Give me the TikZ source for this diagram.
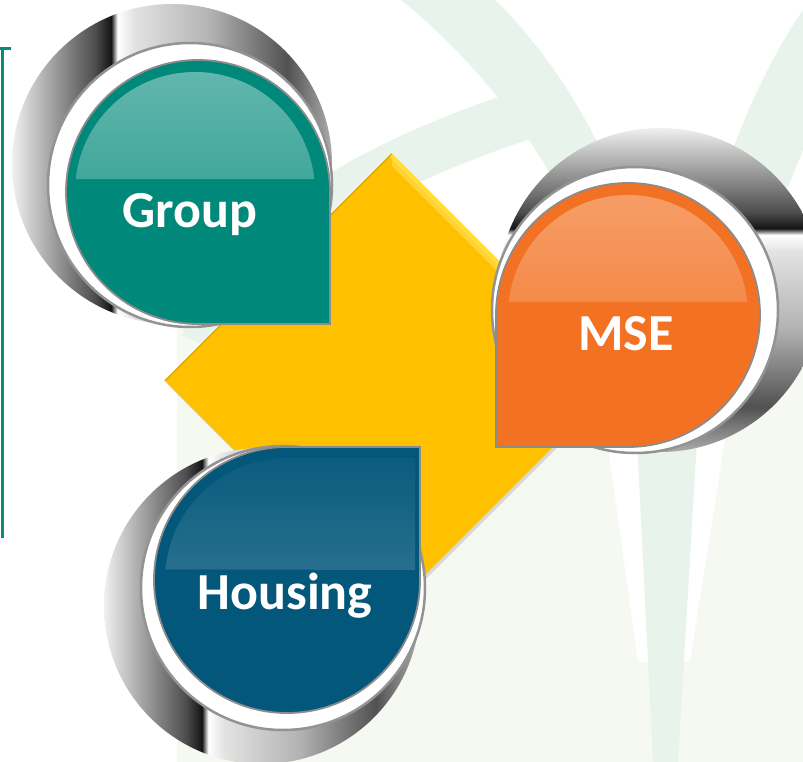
\documentclass[tikz,border=0pt]{standalone}
\usepackage{fontspec}
\setmainfont{Carlito}
\usetikzlibrary{shapes.geometric,shadows}
\definecolor{grpTeal}{RGB}{0,137,122}
\definecolor{mseOrange}{RGB}{242,113,34}
\definecolor{houBlue}{RGB}{3,87,122}
\definecolor{hubGold}{RGB}{255,192,0}
\definecolor{hubLight}{RGB}{255,222,70}
\definecolor{wallTint}{RGB}{245,249,241}
\definecolor{archTint}{RGB}{232,243,236}
\definecolor{railTeal}{RGB}{14,138,122}
\pgfdeclarehorizontalshading{metal}{100bp}{color(0bp)=(gray!12); color(25bp)=(gray!12);
    color(38bp)=(black!70); color(40.5bp)=(black!92); color(41.5bp)=(white); color(44bp)=(gray!22);
    color(56bp)=(gray!60); color(68bp)=(black!68); color(75bp)=(gray!65); color(100bp)=(gray!65)}
\tikzset{
    ring/.style={shading=metal,draw=none},
    well/.style={fill=white,draw=gray!85,line width=2.5},
    drop/.style={draw=gray!90,line width=1.8},
    lbl/.style={font=\bfseries\fontsize{52}{60}\selectfont,text=white,anchor=base,inner sep=0pt},
    hubbox/.style={diamond,fill=hubGold,minimum width=454,minimum height=454,inner sep=0pt,
        drop shadow={shadow xshift=2pt,shadow yshift=-3pt,opacity=0.25}}
}

\begin{document}
\begin{tikzpicture}[x=1pt,y=-1pt]
    \useasboundingbox (0,0) rectangle (803,762);
    \fill[white] (0,0) rectangle (803,762);

    \fill[wallTint] (177,300) rectangle (803,762);
    \draw[archTint,line width=50] (205,345) .. controls (250,230) and (380,160) .. (545,108);
    \fill[archTint] (637,450) .. controls (625,280) and (540,110) .. (395,-5) -- (490,-5) .. controls (600,100) and (660,260) .. (685,450) -- cycle;
    \fill[archTint] (650,450) .. controls (690,300) and (715,140) .. (803,10) -- (803,150) .. controls (760,260) and (700,360) .. (690,450) -- cycle;
    \fill[white] (607,440) -- (637,440) -- (652,662) -- (638,662) -- cycle;
    \fill[white] (697,440) -- (725,440) -- (690,662) -- (678,662) -- cycle;
    \fill[archTint] (637,440) -- (697,440) -- (678,762) -- (653,762) -- cycle;

    \draw[railTeal,line width=3] (0,49) -- (11,49);
    \draw[railTeal,line width=3] (2.5,48) -- (2.5,538);

    \node[hubbox] (hub) at (392,381) {};
    \fill[hubLight!70!hubGold] (hub.north) -- (hub.east) -- ([xshift=-12pt]hub.east) -- ([yshift=-12pt]hub.north) -- cycle;
    \draw[hubLight,line width=3] ([xshift=-2pt,yshift=-1pt]hub.north) -- ([xshift=-3pt]hub.east);
    \draw[hubGold!85!black,line width=1.2] (hub.west) -- (hub.north);

    \shade[ring] (172,164) circle[radius=160];
    \draw[well] (190,185) circle[radius=142];
    \draw[drop,fill=grpTeal] (330,192) arc[start angle=0,end angle=-270,radius=132] -- (330,324) -- cycle;
    \shade[top color=grpTeal!61!white,bottom color=grpTeal!76!white] (195,192) ++(-6.2:120) arc[start angle=-6.2,end angle=-173.8,radius=120] -- cycle;
    \node[lbl] (group) at (190,228) {Group};

    \shade[ring,shading angle=-90] (660,290) circle[radius=162];
    \draw[well] (635,310) circle[radius=143];
    \draw[drop,fill=mseOrange] (628,447) arc[start angle=90,end angle=-180,radius=132] -- (496,447) -- cycle;
    \shade[top color=mseOrange!68!white,bottom color=mseOrange!84!white] (628,315) ++(-6.2:120) arc[start angle=-6.2,end angle=-173.8,radius=120] -- cycle;
    \node[lbl] (mse) at (626,350) {MSE};

    \shade[ring] (262,606) circle[radius=158];
    \draw[well] (283,588) circle[radius=142];
    \draw[drop,fill=houBlue] (287,447) arc[start angle=-90,end angle=-360,radius=133] -- (420,447) -- cycle;
    \shade[top color=houBlue!97!white,bottom color=houBlue!86!white] (415,570) -- (415,458) -- (287,458) arc[start angle=-90,end angle=-175,radius=122] -- cycle;
    \node[lbl] (housing) at (285,609) {Housing};
\end{tikzpicture}
\end{document}
